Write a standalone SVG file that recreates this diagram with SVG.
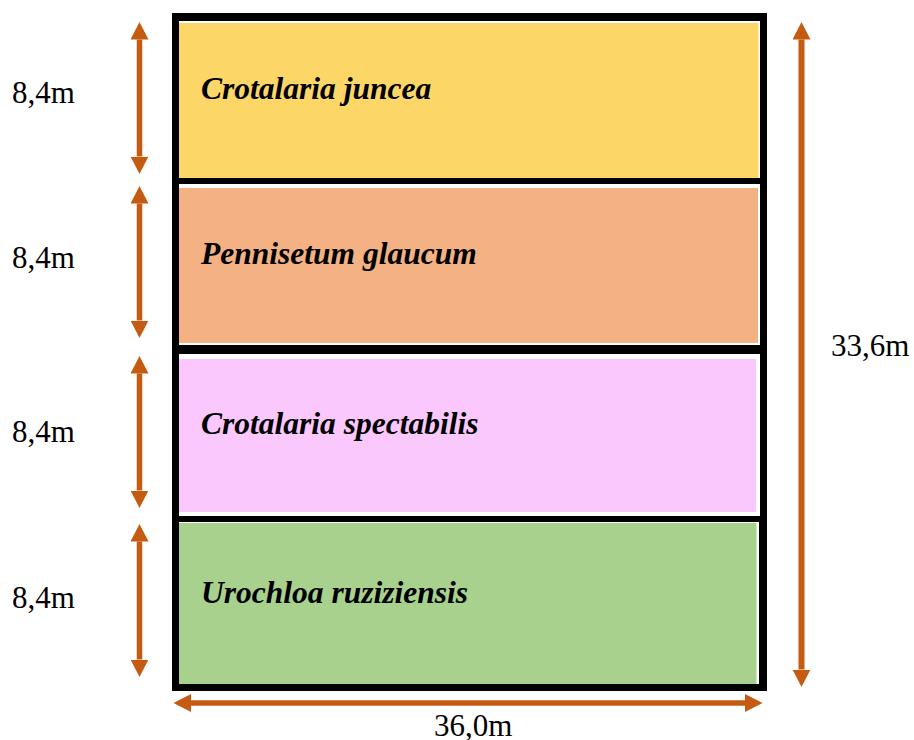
<svg xmlns="http://www.w3.org/2000/svg" width="914" height="740" viewBox="0 0 914 740">
  <style>
    .dim { stroke: #C55A11; stroke-width: 5.5; fill: none; marker-start: url(#head); marker-end: url(#head); }
    .lbl { font-family: "Liberation Serif", "Times New Roman", serif; font-size: 31px; fill: #000; }
    .sp { font-family: "Liberation Serif", "Times New Roman", serif; font-size: 31.5px; font-weight: bold; font-style: italic; fill: #000; }
    .gap { fill: #fff; }
  </style>
  <defs>
    <marker id="head" viewBox="0 -9 18 18" refX="0" refY="0" markerWidth="18" markerHeight="18" markerUnits="userSpaceOnUse" orient="auto-start-reverse">
      <path d="M0,-9 L17.5,0 L0,9 Z" fill="#C55A11"/>
    </marker>
  </defs>

  <rect width="914" height="740" fill="#fff"/>

  <!-- plot frame -->
  <g id="frame">
    <rect x="172" y="13" width="595" height="678" fill="#000"/>
  </g>

  <!-- strips -->
  <g id="strip-juncea">
    <rect class="gap" x="179" y="21" width="581" height="157"/>
    <rect x="179" y="23" width="579.5" height="155" fill="#FCD667"/>
    <text class="sp" x="201" y="99">Crotalaria juncea</text>
  </g>
  <g id="strip-glaucum">
    <rect class="gap" x="179" y="184" width="581" height="161"/>
    <rect x="179" y="188" width="579" height="155" fill="#F4B183"/>
    <text class="sp" x="201" y="264">Pennisetum glaucum</text>
  </g>
  <g id="strip-spectabilis">
    <rect class="gap" x="179" y="354" width="581" height="162"/>
    <rect x="179" y="359" width="577" height="153" fill="#FBC8FE"/>
    <text class="sp" x="201" y="434">Crotalaria spectabilis</text>
  </g>
  <g id="strip-ruziziensis">
    <rect class="gap" x="179" y="522" width="580" height="162"/>
    <rect x="179" y="523" width="577.5" height="161" fill="#A9D18E"/>
    <text class="sp" x="201" y="603">Urochloa ruziziensis</text>
  </g>

  <!-- dimension arrows -->
  <g id="dimensions">
    <line class="dim" x1="139.5" y1="39.5" x2="139.5" y2="156.5"/>
    <line class="dim" x1="139.5" y1="203.5" x2="139.5" y2="320.5"/>
    <line class="dim" x1="139.5" y1="373.5" x2="139.5" y2="490.5"/>
    <line class="dim" x1="139.5" y1="541.5" x2="139.5" y2="659.5"/>
    <line class="dim" x1="801.5" y1="39.5" x2="801.5" y2="669.5" style="stroke-width:6"/>
    <line class="dim" x1="191" y1="703" x2="745" y2="703"/>
  </g>

  <!-- dimension labels -->
  <g id="labels">
    <text class="lbl" x="12" y="103">8,4m</text>
    <text class="lbl" x="12" y="268">8,4m</text>
    <text class="lbl" x="12" y="442">8,4m</text>
    <text class="lbl" x="12" y="608">8,4m</text>
    <text class="lbl" x="831" y="356">33,6m</text>
    <text class="lbl" x="434" y="736">36,0m</text>
  </g>
</svg>
